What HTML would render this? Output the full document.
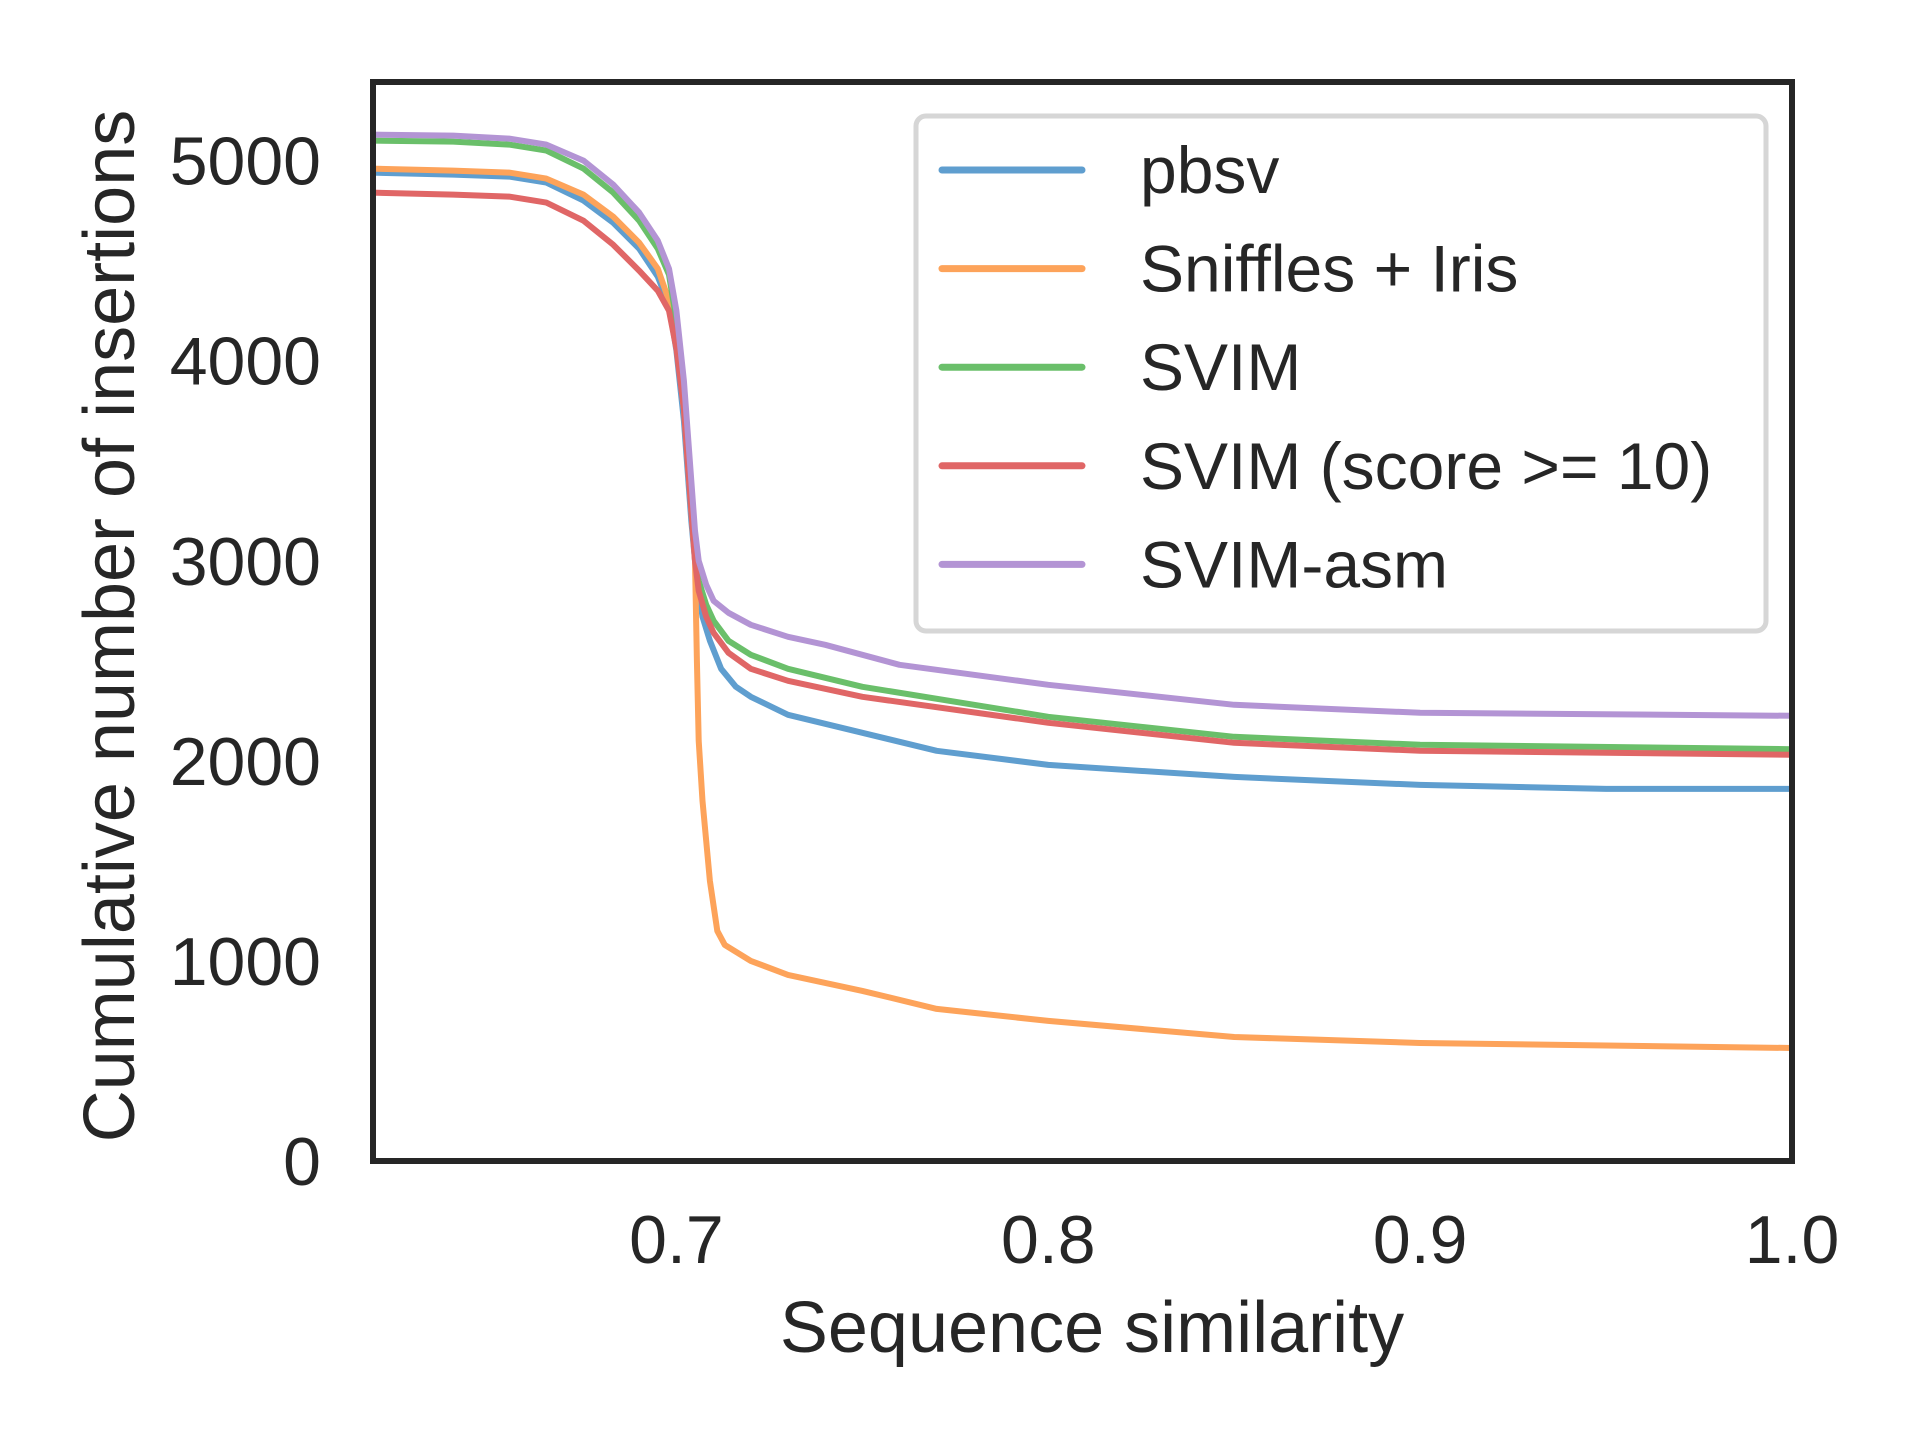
<!DOCTYPE html>
<html><head><meta charset="utf-8"><style>
body{margin:0;background:#fff}
svg text{font-family:"Liberation Sans",sans-serif;fill:#262626}
</style></head><body>
<svg id="chart" width="1920" height="1440" viewBox="0 0 1920 1440" xmlns="http://www.w3.org/2000/svg">
<rect width="1920" height="1440" fill="#fff"/>
<g id="lines"></g>
<rect x="373" y="82" width="1419" height="1079" fill="none" stroke="#262626" stroke-width="6"/>
<g id="xticks"></g><g id="yticks"></g>
<text x="1092" y="1352" font-size="72" text-anchor="middle">Sequence similarity</text>
<text transform="translate(134,626) rotate(-90)" font-size="72" text-anchor="middle">Cumulative number of insertions</text>
<g id="legend">
<rect x="916" y="116" width="850" height="515" rx="10" fill="#fff" stroke="#d6d6d6" stroke-width="5"/>
</g>
</svg>
<script>
const seriesNames=["pbsv","Sniffles + Iris","SVIM","SVIM (score >= 10)","SVIM-asm"];
const pbsvX=[0.618,0.64,0.655,0.665,0.675,0.683,0.69,0.695,0.698,0.700,0.702,0.703,0.704,0.705,0.706,0.707,0.709,0.712,0.716,0.72,0.73,0.75,0.77,0.8,0.85,0.9,0.95,1.0];
const pbsvY=[4940,4930,4920,4890,4800,4690,4560,4420,4280,4050,3700,3450,3200,3000,2850,2720,2600,2460,2370,2320,2230,2140,2050,1980,1920,1880,1860,1860];
const snifX=[0.618,0.64,0.655,0.665,0.675,0.683,0.69,0.695,0.698,0.700,0.702,0.703,0.704,0.705,0.7055,0.706,0.707,0.708,0.709,0.711,0.713,0.72,0.73,0.75,0.77,0.8,0.85,0.9,1.0];
const snifY=[4960,4950,4940,4910,4830,4720,4590,4460,4300,4080,3760,3500,3250,3000,2500,2100,1800,1600,1400,1150,1080,1000,930,850,760,700,620,590,565];
const svimX=[0.618,0.64,0.655,0.665,0.675,0.683,0.69,0.695,0.698,0.700,0.702,0.703,0.704,0.705,0.706,0.708,0.71,0.714,0.72,0.73,0.75,0.8,0.85,0.9,1.0];
const svimY=[5100,5095,5080,5050,4960,4840,4700,4560,4430,4200,3850,3600,3350,3100,2900,2780,2700,2600,2530,2460,2370,2220,2120,2080,2058];
const scoreX=[0.618,0.64,0.655,0.665,0.675,0.683,0.69,0.695,0.698,0.700,0.702,0.703,0.704,0.705,0.706,0.708,0.71,0.714,0.72,0.73,0.75,0.8,0.85,0.9,1.0];
const scoreY=[4840,4830,4820,4790,4700,4580,4450,4350,4250,4060,3760,3500,3250,3000,2850,2720,2640,2540,2460,2400,2320,2190,2090,2050,2030];
const asmX=[0.618,0.64,0.655,0.665,0.675,0.683,0.69,0.695,0.698,0.700,0.702,0.703,0.704,0.705,0.706,0.708,0.71,0.714,0.72,0.73,0.74,0.76,0.8,0.85,0.9,1.0];
const asmY=[5130,5125,5110,5080,5000,4880,4740,4600,4460,4250,3900,3650,3400,3150,3000,2880,2800,2740,2680,2620,2580,2480,2380,2280,2240,2225];
const xTicks=[0.7,0.8,0.9,1.0];
const yTicks=[0,1000,2000,3000,4000,5000];
const colors=["#5f9ecf","#fda35a","#6abf6a","#e06666","#b394d4"];
const X0=373,X1=1792,Y0=1161,Y1=82,xmin=0.6184,xmax=1.0,ymin=0,ymax=5393;
const sx=v=>X0+(v-xmin)/(xmax-xmin)*(X1-X0);
const sy=v=>Y0-(v-ymin)/(ymax-ymin)*(Y0-Y1);
const NS="http://www.w3.org/2000/svg";
const data=[[pbsvX,pbsvY],[snifX,snifY],[svimX,svimY],[scoreX,scoreY],[asmX,asmY]];
const lg=document.getElementById('lines');
data.forEach((d,i)=>{
 const p=document.createElementNS(NS,'polyline');
 p.setAttribute('points',d[0].map((x,j)=>sx(x).toFixed(1)+','+sy(d[1][j]).toFixed(1)).join(' '));
 p.setAttribute('fill','none');p.setAttribute('stroke',colors[i]);p.setAttribute('stroke-width','6');
 p.setAttribute('stroke-linejoin','round');
 
 
 lg.appendChild(p);
});
const xt=document.getElementById('xticks');
xTicks.forEach(v=>{
 const t=document.createElementNS(NS,'text');
 t.setAttribute('x',sx(v));t.setAttribute('y',1263);t.setAttribute('font-size','68');t.setAttribute('text-anchor','middle');
 t.textContent=v.toFixed(1);
 
 
 xt.appendChild(t);
});
const yt=document.getElementById('yticks');
yTicks.forEach(v=>{
 const t=document.createElementNS(NS,'text');
 t.setAttribute('x',321);t.setAttribute('y',sy(v)+24);t.setAttribute('font-size','68');t.setAttribute('text-anchor','end');
 t.textContent=String(v);
 
 
 yt.appendChild(t);
});
const leg=document.getElementById('legend');
seriesNames.forEach((n,i)=>{
 const y=170+i*98.6;
 const l=document.createElementNS(NS,'line');
 l.setAttribute('x1',942);l.setAttribute('x2',1082);l.setAttribute('y1',y);l.setAttribute('y2',y);
 l.setAttribute('stroke',colors[i]);l.setAttribute('stroke-width','7');l.setAttribute('stroke-linecap','round');
 
 
 leg.appendChild(l);
 const t=document.createElementNS(NS,'text');
 t.setAttribute('x',1140);t.setAttribute('y',y+23);t.setAttribute('font-size','66');
 t.textContent=n;
 
 
 leg.appendChild(t);
});
</script>
</body></html>
